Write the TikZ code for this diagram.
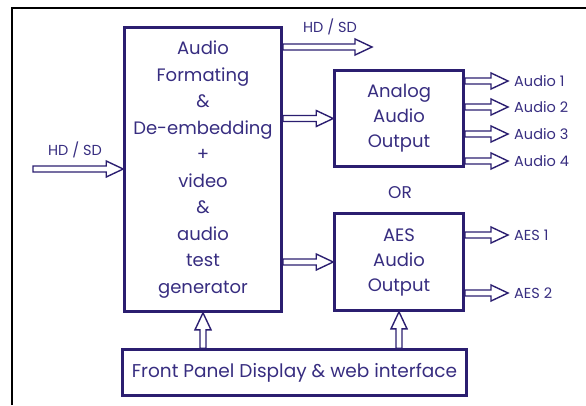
\documentclass[tikz,border=0pt]{standalone}
\usepackage{fontspec}
\setmainfont{Poppins}
\usetikzlibrary{positioning,calc}
\definecolor{boxc}{RGB}{43,30,112}
\definecolor{textc}{RGB}{55,45,128}

\begin{document}
\begin{tikzpicture}[x=1pt,y=-1pt,
  blockbox/.style={draw=boxc,line width=2.6pt,shape=rectangle,align=center,text=textc,font=\fontsize{18}{26.5}\selectfont},
  outlabel/.style={anchor=west,inner ysep=1pt,inner xsep=6pt,text=textc,font=\fontsize{14.5}{16}\selectfont},
  harrow/.style={draw=boxc,line width=1.4pt,to path={let \p1=(\tikztostart),\p2=(\tikztotarget) in
    (\x1,\y1-3pt) -- (\x2-17pt,\y1-3pt) -- (\x2-17pt,\y1-8pt) -- (\x2,\y1) -- (\x2-17pt,\y1+8pt) -- (\x2-17pt,\y1+3pt) -- (\x1,\y1+3pt) -- cycle}},
  varrow/.style={draw=boxc,line width=1.4pt,to path={let \p1=(\tikztostart),\p2=(\tikztotarget) in
    (\x1-3pt,\y1) -- (\x1-3pt,\y2-17pt) -- (\x1-8pt,\y2-17pt) -- (\x1,\y2) -- (\x1+8pt,\y2-17pt) -- (\x1+3pt,\y2-17pt) -- (\x1+3pt,\y1) -- cycle}}]
\useasboundingbox (0,0) rectangle (586,405);

% outer frame
\draw[black,line width=2pt] (12,405) -- (12,8) -- (586,8);

% blocks
\node[blockbox,minimum width=157,minimum height=284] (main) at (203,169.5)
  {Audio\\Formating\\\&\\De-embedding\\+\\video\\\&\\audio\\test\\generator};
\node[blockbox,minimum width=129,minimum height=96,font=\fontsize{18}{25}\selectfont] (analog) at (399,118.5) {Analog\\Audio\\Output};
\node[blockbox,minimum width=129,minimum height=97,font=\fontsize{18}{25}\selectfont] (aes) at (399,262) {AES\\Audio\\Output};
\node[blockbox,minimum width=344,minimum height=46,font=\fontsize{18.5}{20}\selectfont] (panel) at (294.5,372.5) {Front Panel Display \& web interface};

\node[text=textc,font=\fontsize{17}{20}\selectfont] (or) at (400,193) {OR};

% video in / out
\coordinate (hdin) at (33,169);
\coordinate (hdout) at (372,47);
\node[text=textc,font=\fontsize{14.5}{16}\selectfont] (hdinlbl) at (75,150) {HD / SD};
\node[text=textc,font=\fontsize{14.5}{16}\selectfont] (hdoutlbl) at (330,27) {HD / SD};
\draw[harrow] (hdin) to (main.west);
\draw[harrow] (main.east |- hdout) to (hdout);

% audio paths
\draw[harrow] (main.east |- analog.west) to (analog.west);
\draw[harrow] (main.east |- aes.west) to (aes.west);
\foreach \i/\y in {1/81,2/107,3/134,4/161} {
  \node[outlabel] (a\i) at (508,\y) {Audio \i};
  \draw[harrow] (analog.east |- a\i.west) to (a\i.west);
}
\foreach \i/\y in {1/235,2/293} {
  \node[outlabel] (aes\i) at (508,\y) {AES \i};
  \draw[harrow] (aes.east |- aes\i.west) to (aes\i.west);
}

% control
\draw[varrow] (main.south |- panel.north) to (main.south);
\draw[varrow] (aes.south |- panel.north) to (aes.south);

\end{tikzpicture}
\end{document}
